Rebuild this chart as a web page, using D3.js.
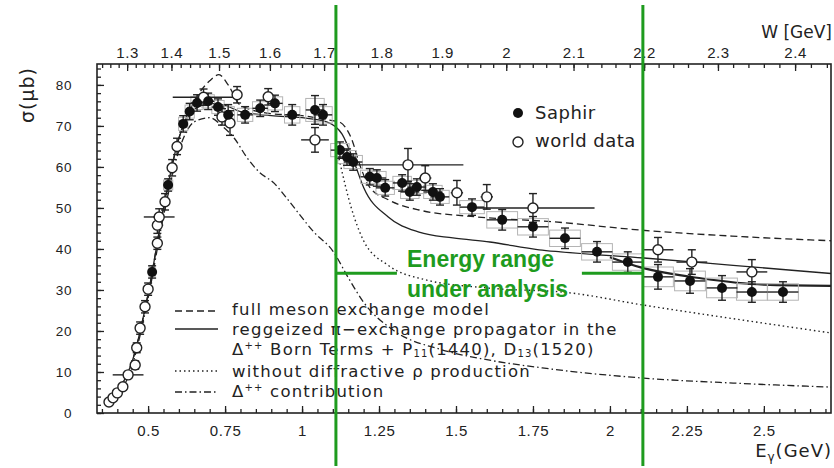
<!DOCTYPE html>
<html>
<head>
<meta charset="utf-8">
<script src="https://cdnjs.cloudflare.com/ajax/libs/d3/7.8.5/d3.min.js"></script>
<style>
body { margin: 0; background: #fff; }
svg { display: block; font-family: "DejaVu Sans", sans-serif; }
</style>
</head>
<body>
<div id="chart"></div>
<script>
// axis ticks
var yTicks = [0, 10, 20, 30, 40, 50, 60, 70, 80];
var eTicks = [0.5, 0.75, 1, 1.25, 1.5, 1.75, 2, 2.25, 2.5];
var wTicks = [1.3, 1.4, 1.5, 1.6, 1.7, 1.8, 1.9, 2, 2.1, 2.2, 2.3, 2.4];

// Saphir (filled): E, sigma, stat error, half bin width
var saphirE   = [0.513, 0.565, 0.614, 0.635, 0.659, 0.695, 0.727, 0.76, 0.815, 0.864, 0.912, 0.968, 1.042, 1.068,
                 1.123, 1.146, 1.166, 1.22, 1.243, 1.27, 1.325, 1.35, 1.373, 1.425, 1.448, 1.552, 1.65, 1.75,
                 1.854, 1.958, 2.058, 2.156, 2.26, 2.364, 2.461, 2.562];
var saphirS   = [34.4, 55.6, 70.5, 73.5, 75.6, 76.0, 74.6, 72.7, 72.7, 74.3, 75.5, 72.7, 73.9, 72.7,
                 64.1, 62.4, 61.2, 57.6, 57.3, 54.9, 56.1, 53.9, 55.1, 53.9, 52.7, 50.2, 47.1, 45.4,
                 42.6, 39.3, 36.8, 33.2, 32.2, 30.5, 29.5, 29.5];
var saphirErr = [1.5, 1.5, 2, 2, 2, 2, 2, 2.5, 2, 2, 2, 2.5, 3.5, 2.5,
                 2, 2, 2, 2, 2, 2, 2, 2, 2, 2, 2, 2, 2.5, 2.5,
                 2.5, 2.5, 2.5, 3, 3, 3, 2.5, 2.5];
var saphirDE  = [0.01, 0.015, 0.015, 0.015, 0.02, 0.02, 0.02, 0.02, 0.025, 0.025, 0.025, 0.025, 0.03, 0.03,
                 0.03, 0.03, 0.03, 0.03, 0.03, 0.03, 0.03, 0.03, 0.03, 0.03, 0.03, 0.04, 0.05, 0.05,
                 0.05, 0.05, 0.05, 0.05, 0.05, 0.05, 0.05, 0.05];

// world data (open)
var worldE   = [0.373, 0.386, 0.40, 0.418, 0.435, 0.458, 0.463, 0.474, 0.49, 0.50, 0.53, 0.53, 0.536, 0.555,
                0.578, 0.594, 0.68, 0.74, 0.766, 0.789, 0.89, 1.042, 1.344, 1.40, 1.503, 1.60, 1.75,
                2.156, 2.266, 2.461];
var worldS   = [2.7, 3.7, 4.9, 6.4, 9.3, 11.7, 15.9, 20.7, 25.9, 30.2, 41.4, 45.8, 47.8, 51.5,
                59.8, 65, 77, 72.2, 70.7, 77.6, 77.1, 66.6, 60.5, 57.3, 53.7, 52.7, 50,
                39.8, 36.8, 34.4];
var worldErr = [0.5, 0.5, 0.5, 0.7, 0.8, 1, 1.2, 1.5, 1.5, 1.5, 1.5, 2, 2, 2,
                2, 2, 2, 2, 3, 2, 2, 3, 4, 3, 3, 3, 3.5,
                3, 3, 3];
var worldDE  = [0, 0, 0, 0, 0.05, 0, 0, 0, 0, 0, 0, 0, 0.05, 0,
                0, 0, 0.1, 0, 0, 0, 0, 0.045, 0.18, 0.02, 0.02, 0.02, 0.2,
                0.05, 0.05, 0.05];

// model curves
var fullE  = [0.37, 0.40, 0.45, 0.50, 0.55, 0.60, 0.65, 0.70, 0.73, 0.76, 0.80, 0.90, 1.00, 1.08, 1.12,
              1.16, 1.19, 1.22, 1.28, 1.38, 1.57, 1.82, 2.10, 2.43, 2.72];
var fullS  = [2, 5, 13, 29, 50, 67, 76, 81, 82.5, 80, 75, 73, 72.5, 71.5, 71,
              67, 60, 55, 52, 49.5, 47.8, 46.6, 44.6, 43, 42];
var reggeE = [0.37, 0.40, 0.45, 0.50, 0.55, 0.60, 0.65, 0.70, 0.75, 0.80, 0.90, 1.00, 1.08, 1.13, 1.17,
              1.20, 1.28, 1.38, 1.49, 1.61, 1.77, 1.84, 2.11, 2.40, 2.72];
var reggeS = [2, 5, 13, 29, 50, 67, 74, 75.5, 75, 73.5, 72.5, 72, 71, 68, 61,
              55, 47.8, 44.1, 42.7, 41.7, 39.8, 39.3, 37.8, 36, 34];
var fitE   = [2.0, 2.1, 2.3, 2.5, 2.72];
var fitS   = [38, 35.5, 32.8, 31.3, 31];
var noRhoE = [1.12, 1.16, 1.20, 1.28, 1.40, 1.60, 1.87, 2.11, 2.40, 2.72];
var noRhoS = [62, 50, 42, 36, 32.5, 30.5, 29.3, 26.3, 23, 19.5];
var deltaE = [0.37, 0.45, 0.50, 0.55, 0.60, 0.65, 0.70, 0.74, 0.78, 0.82, 0.86, 0.91, 0.95, 1.04, 1.10,
              1.15, 1.20, 1.30, 1.45, 1.60, 1.78, 2.11, 2.40, 2.72];
var deltaS = [2, 12, 28, 48, 64, 71, 72, 70, 67, 62.4, 58.8, 56, 52.4, 44, 39.5,
              33, 27, 20, 15.5, 13, 11, 8.5, 7.3, 6.3];

var rangeE = [1.11, 2.107];

function go() {
    var width = 834, height = 468;
    var left = 97, right = 831, top = 64, bottom = 413;
    var ink = "#222", green = "#1e9b1e";

    var svg = d3.select("#chart").append("svg")
        .attr("width", width)
        .attr("height", height);

    var x = d3.scaleLinear().domain([0.334, 2.718]).range([left, right]);
    var y = d3.scaleLinear().domain([0, 85.1]).range([bottom, top]);

    var mp = 0.938;
    function wToE(w) { return (w * w - mp * mp) / (2 * mp); }

    svg.append("clipPath").attr("id", "plotclip")
        .append("rect").attr("x", left).attr("y", top)
        .attr("width", right - left).attr("height", bottom - top);

    // axes
    var bAxis = svg.append("g").attr("transform", "translate(0," + bottom + ")")
        .call(d3.axisBottom(x).tickValues(eTicks).tickSize(-7).tickPadding(12)
            .tickFormat(function (d) { return String(d); }));
    svg.append("g").attr("transform", "translate(0," + bottom + ")")
        .call(d3.axisBottom(x).tickValues(d3.range(0.35, 2.72, 0.05)).tickSize(-4).tickFormat(""));

    var tAxis = svg.append("g").attr("transform", "translate(0," + top + ")")
        .call(d3.axisTop(x).tickValues(wTicks.map(wToE)).tickSize(-7).tickPadding(6)
            .tickFormat(function (d, i) { return String(wTicks[i]); }));
    svg.append("g").attr("transform", "translate(0," + top + ")")
        .call(d3.axisTop(x).tickValues(d3.range(1.24, 2.445, 0.02).map(wToE)).tickSize(-4).tickFormat(""));

    var lAxis = svg.append("g").attr("transform", "translate(" + left + ",0)")
        .call(d3.axisLeft(y).tickValues(yTicks).tickSize(-7).tickPadding(25));
    svg.append("g").attr("transform", "translate(" + left + ",0)")
        .call(d3.axisLeft(y).tickValues(d3.range(0, 85, 2)).tickSize(-4).tickFormat(""));

    svg.selectAll(".domain").remove();
    svg.selectAll(".tick line").attr("stroke", ink).attr("stroke-width", 1.3);
    svg.selectAll(".tick text").attr("fill", ink).style("letter-spacing", "0.6px");
    bAxis.selectAll("text").attr("font-size", 15);
    tAxis.selectAll("text").attr("font-size", 15);
    lAxis.selectAll("text").attr("font-size", 13.5);

    svg.append("rect")
        .attr("x", left).attr("y", top)
        .attr("width", right - left).attr("height", bottom - top)
        .attr("fill", "none").attr("stroke", ink).attr("stroke-width", 1.6);

    // curves
    var plot = svg.append("g").attr("clip-path", "url(#plotclip)");
    var line = d3.line()
        .x(function (d) { return x(d[0]); })
        .y(function (d) { return y(d[1]); })
        .curve(d3.curveMonotoneX);

    function curve(es, ss, dash, w) {
        plot.append("path")
            .datum(d3.zip(es, ss))
            .attr("d", line)
            .attr("fill", "none")
            .attr("stroke", ink)
            .attr("stroke-width", w)
            .attr("stroke-dasharray", dash);
    }
    curve(deltaE, deltaS, "7,3,1.5,3", 1.3);
    curve(noRhoE, noRhoS, "1.5,3", 1.4);
    curve(fullE, fullS, "7,4", 1.3);
    curve(reggeE, reggeS, null, 1.3);
    curve(fitE, fitS, null, 2.2);

    // data
    var saphir = saphirE.map(function (e, i) {
        return { e: e, s: saphirS[i], err: saphirErr[i], de: saphirDE[i] };
    });
    var world = worldE.map(function (e, i) {
        return { e: e, s: worldS[i], err: worldErr[i], de: worldDE[i] };
    });

    // systematic boxes
    plot.selectAll(".sys").data(saphir).enter().append("rect")
        .attr("class", "sys")
        .attr("x", function (d) { return x(d.e - d.de); })
        .attr("y", function (d) { return y(d.s + d.err * 0.8); })
        .attr("width", function (d) { return x(d.e + d.de) - x(d.e - d.de); })
        .attr("height", function (d) { return y(d.s - d.err * 0.8) - y(d.s + d.err * 0.8); })
        .attr("fill", "none").attr("stroke", "#b4b4b4").attr("stroke-width", 1);

    function errorBars(data, cls) {
        var g = plot.selectAll("." + cls).data(data).enter().append("g").attr("class", cls);
        g.append("line")
            .attr("x1", function (d) { return x(d.e); }).attr("x2", function (d) { return x(d.e); })
            .attr("y1", function (d) { return y(d.s - d.err); }).attr("y2", function (d) { return y(d.s + d.err); });
        g.append("line")
            .attr("x1", function (d) { return x(d.e) - 4; }).attr("x2", function (d) { return x(d.e) + 4; })
            .attr("y1", function (d) { return y(d.s + d.err); }).attr("y2", function (d) { return y(d.s + d.err); });
        g.append("line")
            .attr("x1", function (d) { return x(d.e) - 4; }).attr("x2", function (d) { return x(d.e) + 4; })
            .attr("y1", function (d) { return y(d.s - d.err); }).attr("y2", function (d) { return y(d.s - d.err); });
        g.filter(function (d) { return d.de > 0; }).append("line")
            .attr("x1", function (d) { return x(d.e - d.de); }).attr("x2", function (d) { return x(d.e + d.de); })
            .attr("y1", function (d) { return y(d.s); }).attr("y2", function (d) { return y(d.s); });
        g.selectAll("line").attr("stroke", ink).attr("stroke-width", 1.4);
    }
    errorBars(world, "werr");
    errorBars(saphir, "serr");

    plot.selectAll(".world").data(world).enter().append("circle")
        .attr("class", "world")
        .attr("cx", function (d) { return x(d.e); })
        .attr("cy", function (d) { return y(d.s); })
        .attr("r", 5)
        .attr("fill", "#fff").attr("stroke", ink).attr("stroke-width", 1.4);

    plot.selectAll(".saphir").data(saphir).enter().append("circle")
        .attr("class", "saphir")
        .attr("cx", function (d) { return x(d.e); })
        .attr("cy", function (d) { return y(d.s); })
        .attr("r", 5)
        .attr("fill", "#111");

    // axis titles
    svg.append("text")
        .attr("transform", "translate(34,95) rotate(-90)")
        .attr("text-anchor", "middle")
        .attr("font-size", 19).attr("fill", ink)
        .style("letter-spacing", "1px")
        .text("σ(μb)");
    svg.append("text")
        .attr("x", 832).attr("y", 38)
        .attr("text-anchor", "end")
        .attr("font-size", 17).attr("fill", ink)
        .text("W [GeV]");
    var et = svg.append("text")
        .attr("x", 832).attr("y", 457)
        .attr("text-anchor", "end")
        .attr("font-size", 18).attr("fill", ink)
        .style("letter-spacing", "1px");
    et.append("tspan").text("E");
    et.append("tspan").attr("font-size", 12).attr("dy", 4).text("γ");
    et.append("tspan").attr("dy", -4).text("(GeV)");

    // marker legend
    svg.append("circle").attr("cx", 518).attr("cy", 113).attr("r", 5).attr("fill", "#111");
    svg.append("circle").attr("cx", 518).attr("cy", 142).attr("r", 5)
        .attr("fill", "#fff").attr("stroke", ink).attr("stroke-width", 1.4);
    svg.append("text").attr("x", 535).attr("y", 119).attr("font-size", 18).attr("fill", ink)
        .style("letter-spacing", "0.5px").text("Saphir");
    svg.append("text").attr("x", 535).attr("y", 147).attr("font-size", 18).attr("fill", ink)
        .style("letter-spacing", "0.5px").text("world data");

    // curve legend
    var leg = svg.append("g").attr("font-size", 16.5).attr("fill", ink).style("letter-spacing", "1.2px");
    var samples = [[311, "7,4", 1.3], [329, null, 1.3], [371, "1.5,3", 1.4], [392, "7,3,1.5,3", 1.3]];
    samples.forEach(function (s) {
        leg.append("line").attr("x1", 175).attr("x2", 218).attr("y1", s[0]).attr("y2", s[0])
            .attr("stroke", ink).attr("stroke-width", s[2]).attr("stroke-dasharray", s[1]);
    });
    leg.append("text").attr("x", 232).attr("y", 315).text("full meson exchange model");
    leg.append("text").attr("x", 232).attr("y", 335).text("reggeized π−exchange propagator in the");
    var born = leg.append("text").attr("x", 232).attr("y", 355);
    born.append("tspan").text("Δ");
    born.append("tspan").attr("font-size", 10).attr("dy", -6).text("++");
    born.append("tspan").attr("dy", 6).text(" Born Terms + P");
    born.append("tspan").attr("font-size", 10).attr("dy", 2).text("11");
    born.append("tspan").attr("dy", -2).text("(1440), D");
    born.append("tspan").attr("font-size", 10).attr("dy", 2).text("13");
    born.append("tspan").attr("dy", -2).text("(1520)");
    leg.append("text").attr("x", 232).attr("y", 377).text("without diffractive ρ production");
    var dc = leg.append("text").attr("x", 232).attr("y", 397);
    dc.append("tspan").text("Δ");
    dc.append("tspan").attr("font-size", 10).attr("dy", -6).text("++");
    dc.append("tspan").attr("dy", 6).text(" contribution");

    // energy range annotation
    var ann = svg.append("g");
    rangeE.forEach(function (e) {
        ann.append("line").attr("x1", x(e)).attr("x2", x(e)).attr("y1", 5).attr("y2", 466)
            .attr("stroke", green).attr("stroke-width", 3);
    });
    ann.append("line").attr("x1", x(rangeE[0])).attr("x2", x(rangeE[0]) + 61)
        .attr("y1", y(34.1)).attr("y2", y(34.1)).attr("stroke", green).attr("stroke-width", 3);
    ann.append("line").attr("x1", x(rangeE[1]) - 61).attr("x2", x(rangeE[1]))
        .attr("y1", y(34.1)).attr("y2", y(34.1)).attr("stroke", green).attr("stroke-width", 3);
    ann.append("text").attr("x", 407).attr("y", 267)
        .attr("font-family", "Liberation Sans, Arial, sans-serif").attr("font-weight", "bold")
        .attr("font-size", 23).attr("fill", green).text("Energy range");
    ann.append("text").attr("x", 407).attr("y", 297)
        .attr("font-family", "Liberation Sans, Arial, sans-serif").attr("font-weight", "bold")
        .attr("font-size", 23).attr("fill", green).text("under analysis");
}

document.addEventListener("DOMContentLoaded", function () {
    go();
});
</script>
</body>
</html>
